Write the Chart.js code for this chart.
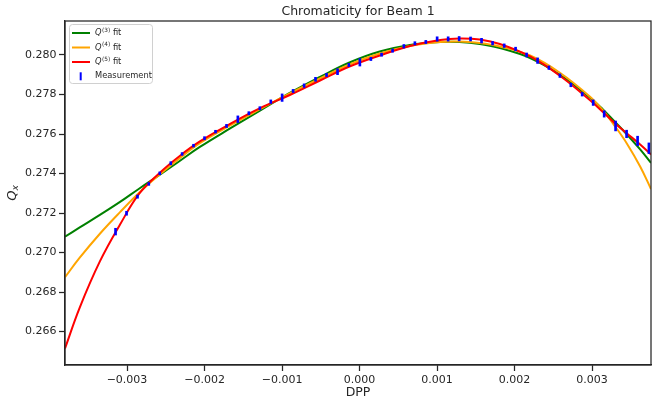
<!DOCTYPE html>
<html><head><meta charset="utf-8">
<script src="https://cdn.jsdelivr.net/npm/chart.js@4.4.0/dist/chart.umd.min.js"></script>
<style>html,body{margin:0;padding:0;background:#fff;overflow:hidden}canvas{display:block}</style>
</head><body>
<canvas id="c" width="652" height="396"></canvas>
<script>
// ---- data ----
const measDPP = [-0.003148,-0.003006,-0.002865,-0.002719,-0.002577,-0.002435,-0.002289,-0.002142,-0.002000,-0.001858,
  -0.001716,-0.001570,-0.001428,-0.001286,-0.001145,-0.000999,-0.000857,-0.000715,-0.000568,-0.000426,
  -0.000284,-0.000138,0.000004,0.000146,0.000284,0.000426,0.000572,0.000714,0.000855,0.001001,
  0.001143,0.001285,0.001432,0.001574,0.001716,0.001866,0.002013,0.002155,0.002297,0.002443,
  0.002585,0.002726,0.002872,0.003014,0.003156,0.003303,0.003445,0.003587,0.003733];
const measQx = [0.271059,0.271990,0.272830,0.273473,0.274014,0.274520,0.274991,0.275411,0.275785,0.276119,
  0.276408,0.276747,0.277050,0.277303,0.277637,0.277840,0.278178,0.278447,0.278770,0.278988,
  0.279155,0.279494,0.279631,0.279798,0.280015,0.280218,0.280440,0.280592,0.280658,0.280810,
  0.280810,0.280825,0.280810,0.280724,0.280597,0.280471,0.280304,0.280000,0.279712,0.279357,
  0.278953,0.278482,0.278012,0.277587,0.277015,0.276408,0.276003,0.275649,0.275279];
const measErr = [0.00017,0.00010,0.00008,0.00007,0.00007,0.00008,0.00007,0.00007,0.00008,0.00007,
  0.00008,0.00017,0.00008,0.00008,0.00009,0.00019,0.00008,0.00009,0.00010,0.00008,
  0.00015,0.00008,0.00019,0.00008,0.00008,0.00008,0.00009,0.00008,0.00008,0.00011,
  0.00011,0.00011,0.00010,0.00012,0.00009,0.00009,0.00009,0.00010,0.00014,0.00009,
  0.00009,0.00009,0.00009,0.00014,0.00016,0.00025,0.00019,0.00024,0.00027];

const fitDPP = [-0.00380,-0.00361,-0.00335,-0.00309,-0.00284,-0.00258,-0.00232,-0.00206,-0.00167,-0.00129,
  -0.00090,-0.00051,-0.00013,0.00026,0.00065,0.00104,0.00129,0.00155,0.00181,0.00220,
  0.00258,0.00297,0.00314,0.00329,0.00345,0.00362,0.00376];
const fitQ3 = [0.270806,0.271272,0.271904,0.272562,0.273245,0.273928,0.274637,0.275345,0.276281,0.277167,
  0.278077,0.278887,0.279621,0.280177,0.280506,0.280658,0.280658,0.280557,0.280354,0.279848,
  0.279013,0.277850,0.277242,0.276635,0.275977,0.275219,0.274536];
const fitQ4 = [0.268752,0.269739,0.270953,0.272046,0.273038,0.273949,0.274778,0.275537,0.276433,0.277242,
  0.278052,0.278811,0.279519,0.280076,0.280455,0.280658,0.280683,0.280607,0.280430,0.279975,
  0.279115,0.277900,0.277192,0.276423,0.275512,0.274358,0.273220];
const fitQ5 = [0.265150,0.267219,0.269552,0.271418,0.272993,0.274030,0.274890,0.275623,0.276509,0.277293,
  0.277976,0.278710,0.279418,0.279975,0.280455,0.280759,0.280835,0.280784,0.280557,0.279924,
  0.278963,0.277723,0.277116,0.276559,0.276028,0.275472,0.274966];

const xTicks = [-0.003,-0.002,-0.001,0.000,0.001,0.002,0.003];
const yTicks = [0.266,0.268,0.270,0.272,0.274,0.276,0.278,0.280];
const legendItems = [
  {sup:'(3)', color:'#008000'},
  {sup:'(4)', color:'#ffa500'},
  {sup:'(5)', color:'#ff0000'}
];
const measLabel = 'Measurement';
const titleText = 'Chromaticity for Beam 1';
const xTitle = 'DPP';

// ---- chart ----
const FONT = "'DejaVu Sans', sans-serif";
const INK = '#262626';

const fitLine = (ys, color, order) => ({
  type: 'line',
  data: fitDPP.map((x, i) => ({x: x, y: ys[i]})),
  borderColor: color, borderWidth: 2, pointRadius: 0,
  tension: 0.4, fill: false, order: order
});

const decor = {
  id: 'decor',
  afterDatasetsDraw(chart) {
    const ctx = chart.ctx, a = chart.chartArea;
    ctx.save();
    ctx.strokeStyle = INK; ctx.lineWidth = 1.25;
    ctx.strokeRect(a.left, a.top, a.right - a.left, a.bottom - a.top);
    ctx.restore();
  },
  afterDraw(chart) {
    const ctx = chart.ctx, a = chart.chartArea;
    const cx = (a.left + a.right) / 2;
    ctx.save();
    ctx.fillStyle = INK;
    ctx.font = '12.5px ' + FONT;
    ctx.textAlign = 'center'; ctx.textBaseline = 'middle';
    ctx.fillText(titleText, cx, 12);
    ctx.textBaseline = 'alphabetic';
    ctx.fillText(xTitle, cx, 396);
    ctx.save();
    ctx.translate(13, (a.top + a.bottom) / 2);
    ctx.rotate(-Math.PI / 2);
    ctx.font = 'italic 13px ' + FONT;
    const wQ = ctx.measureText('Q').width;
    ctx.font = 'italic 9px ' + FONT;
    const wx = ctx.measureText('x').width;
    const x0 = -(wQ + wx) / 2;
    ctx.textAlign = 'left'; ctx.textBaseline = 'middle';
    ctx.font = 'italic 13px ' + FONT;
    ctx.fillText('Q', x0, 0);
    ctx.font = 'italic 9px ' + FONT;
    ctx.fillText('x', x0 + wQ, 3);
    ctx.restore();

    const bx = 69.5, by = 24.5, bw = 83, bh = 59, r = 3;
    ctx.beginPath();
    ctx.moveTo(bx + r, by); ctx.lineTo(bx + bw - r, by); ctx.arcTo(bx + bw, by, bx + bw, by + r, r);
    ctx.lineTo(bx + bw, by + bh - r); ctx.arcTo(bx + bw, by + bh, bx + bw - r, by + bh, r);
    ctx.lineTo(bx + r, by + bh); ctx.arcTo(bx, by + bh, bx, by + bh - r, r);
    ctx.lineTo(bx, by + r); ctx.arcTo(bx, by, bx + r, by, r);
    ctx.closePath();
    ctx.fillStyle = 'rgba(255,255,255,0.8)'; ctx.fill();
    ctx.strokeStyle = '#d0d0d0'; ctx.lineWidth = 1; ctx.stroke();

    const rows = [33, 47.5, 62, 76.3];
    ctx.textAlign = 'left'; ctx.textBaseline = 'middle';
    legendItems.forEach((it, i) => {
      const y = rows[i];
      ctx.strokeStyle = it.color; ctx.lineWidth = 2;
      ctx.beginPath(); ctx.moveTo(72, y); ctx.lineTo(90, y); ctx.stroke();
      ctx.fillStyle = INK;
      let x = 95;
      ctx.font = 'italic 8.3px ' + FONT;
      ctx.fillText('Q', x, y); x += ctx.measureText('Q').width + 0.5;
      ctx.font = '5.8px ' + FONT;
      ctx.fillText(it.sup, x, y - 3); x += ctx.measureText(it.sup).width;
      ctx.font = '8.3px ' + FONT;
      ctx.fillText(' fit', x, y);
    });
    const ym = rows[3];
    ctx.strokeStyle = '#0000ff'; ctx.lineWidth = 2;
    ctx.beginPath(); ctx.moveTo(80.7, ym - 4); ctx.lineTo(80.7, ym + 4); ctx.stroke();
    ctx.fillStyle = INK; ctx.font = '8.3px ' + FONT;
    ctx.fillText(measLabel, 95, ym);
    ctx.restore();
  }
};

const fmt = v => Number(v).toFixed(3).replace('-', '\u2212');

new Chart(document.getElementById('c'), {
  type: 'line',
  data: {
    datasets: [
      {
        type: 'bar', label: measLabel,
        data: measDPP.map((x, i) => ({x: x, y: [measQx[i] - measErr[i], measQx[i] + measErr[i]]})),
        backgroundColor: '#0000ff', borderWidth: 0, barThickness: 2, grouped: false, order: 0
      },
      fitLine(fitQ5, '#ff0000', 1),
      fitLine(fitQ4, '#ffa500', 2),
      fitLine(fitQ3, '#008000', 3)
    ]
  },
  options: {
    responsive: false, animation: false, devicePixelRatio: 1,
    layout: {padding: {left: 0, right: 1, top: 21, bottom: 0}},
    plugins: {legend: {display: false}, tooltip: {enabled: false}, title: {display: false}},
    scales: {
      x: {
        type: 'linear', min: -0.0038, max: 0.00376, offset: false,
        afterBuildTicks: s => { s.ticks = xTicks.map(v => ({value: v})); },
        afterFit: s => { s.height = 31; },
        grid: {display: true, offset: false, drawOnChartArea: false, drawTicks: true, tickLength: 6, tickWidth: 1.25, tickColor: INK},
        border: {display: true, color: INK, width: 1.25},
        ticks: {font: {family: FONT, size: 11}, color: INK, padding: 3, maxRotation: 0, autoSkip: false, callback: v => fmt(v)}
      },
      y: {
        type: 'linear', min: 0.26431, max: 0.28172,
        afterBuildTicks: s => { s.ticks = yTicks.map(v => ({value: v})); },
        afterFit: s => { s.width = 65; },
        grid: {display: true, offset: false, drawOnChartArea: false, drawTicks: true, tickLength: 6, tickWidth: 1.25, tickColor: INK},
        border: {display: true, color: INK, width: 1.25},
        ticks: {font: {family: FONT, size: 11}, color: INK, padding: 2.5, autoSkip: false, callback: v => fmt(v)}
      }
    }
  },
  plugins: [decor]
});
</script>
</body></html>
